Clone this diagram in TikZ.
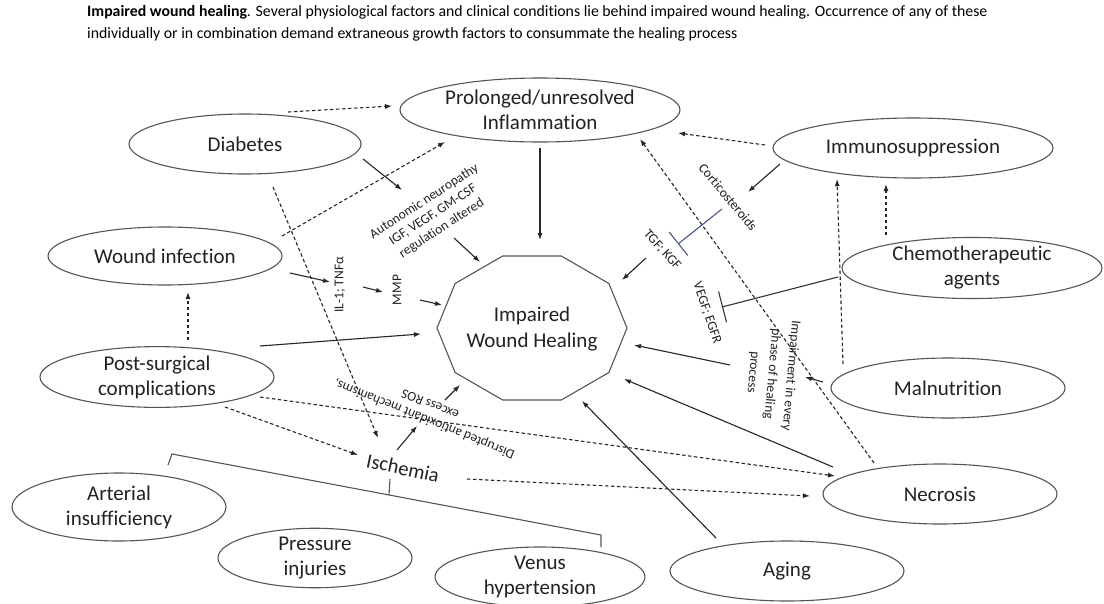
\documentclass[tikz,border=0pt]{standalone}
\usepackage{fontspec}
\setmainfont{Carlito}[Ligatures={NoCommon}]
\usetikzlibrary{arrows.meta,shapes.geometric}
\definecolor{ln}{HTML}{555555}
\definecolor{tx}{HTML}{222222}
\definecolor{inh}{HTML}{4A5785}
\begin{document}
\begin{tikzpicture}[x=1pt,y=-1pt,
  ell/.style={ellipse, draw=ln, line width=1.1pt, inner sep=0pt, align=center, text=tx, font=\fontsize{21}{25}\selectfont},
  arr/.style={draw=black!85, line width=1.1pt, -{Latex[length=7pt,width=5pt]}},
  darr/.style={arr, dash pattern=on 3.5pt off 2.5pt},
  inhib/.style={line width=1.1pt, -{Bar[width=#1,line width=1.1pt]}},
  lab/.style={font=\fontsize{13.5}{16}\selectfont, align=center, text=tx, inner sep=0pt},
  poly/.style={draw=ln, line width=1.1pt}
]
\useasboundingbox (0,0) rectangle (1104,603);
\fill[white] (0,0) rectangle (1104,603);

% title
\node[anchor=north west, align=left, inner sep=0pt, font=\fontsize{15.8}{22}\selectfont] (title) at (87,5)
 {\textbf{Impaired wound healing}. Several physiological factors and clinical conditions lie behind impaired wound healing. Occurrence of any of these\\individually or in combination demand extraneous growth factors to consummate the healing process};

% ellipses
\node[ell, minimum width=280pt, minimum height=64pt] (prol) at (540,110) {Prolonged/unresolved\\Inflammation};
\node[ell, minimum width=232pt, minimum height=60pt] (diab) at (245,144) {Diabetes};
\node[ell, minimum width=234pt, minimum height=58pt] (winf) at (165,256) {Wound infection};
\node[ell, minimum width=234pt, minimum height=60pt] (post) at (157,377) {Post-surgical\\complications};
\node[ell, minimum width=280pt, minimum height=60pt] (immu) at (913,148) {Immunosuppression};
\node[ell, minimum width=260pt, minimum height=60pt] (chem) at (972,268) {Chemotherapeutic\\agents};
\node[ell, minimum width=234pt, minimum height=60pt] (maln) at (948,388) {Malnutrition};
\node[ell, minimum width=234pt, minimum height=60pt] (necr) at (940,494) {Necrosis};
\node[ell, minimum width=234pt, minimum height=60pt] (agin) at (787,571) {Aging};
\node[ell, minimum width=214pt, minimum height=68pt] (arte) at (119,507) {Arterial\\insufficiency};
\node[ell, minimum width=194pt, minimum height=58pt] (pres) at (315,558) {Pressure\\injuries};
\node[ell, minimum width=210pt, minimum height=60pt] (venu) at (540,577) {Venus\\hypertension};

% decagon
\draw[poly] (627,328) \foreach \a in {36,72,...,324}{ -- ({532+95*cos(\a)},{328+75.7*sin(\a)})} -- cycle;
\node[align=center, text=tx, font=\fontsize{21}{26}\selectfont] (iwh) at (532,329) {Impaired\\Wound Healing};

% ischemia
\node[text=tx, font=\fontsize{20.5}{24}\selectfont, rotate=-12, inner sep=0pt] (isch) at (403,468) {Ischemia};

% bracket
\coordinate (bk1) at (168,465); \coordinate (bk2) at (172,454);
\coordinate (bk3) at (601,535); \coordinate (bk4) at (601,547);
\coordinate (bm1) at (389,495); \coordinate (bm2) at (390,479);
\draw[ln, line width=1.1pt] (bk1) -- (bk2) -- (bk3) -- (bk4);
\draw[ln, line width=1.1pt] (bm1) -- (bm2);

% small labels
\node[lab, rotate=33] (auto) at (433,215) {Autonomic neuropathy\\IGF, VEGF, GM-CSF\\regulation altered};
\node[lab, rotate=90] (il1) at (340,285) {IL-1; TNFα};
\node[lab, rotate=90] (mmp) at (397,290) {MMP};
\node[lab, rotate=158] (dis) at (427,412) {Disrupted antioxidant mechanisms,\\excess ROS};
\node[lab, rotate=-50] (cort) at (728,197) {Corticosteroids};
\node[lab, rotate=-48] (tgf) at (662,250) {TGF; KGF};
\node[lab, rotate=-71] (vegf) at (707,313) {VEGF; EGFR};
\node[lab, rotate=-95, font=\fontsize{13.5}{19}\selectfont] (imp) at (772,374) {Impairment in every\\phase of healing\\process};

% connector end points
\coordinate (a1s) at (288,112); \coordinate (a1e) at (392,106);
\coordinate (a2s) at (282,236); \coordinate (a2e) at (445,142);
\coordinate (a3s) at (363,159); \coordinate (a3e) at (402,190);
\coordinate (a4s) at (273,187); \coordinate (a4e) at (378,438);
\coordinate (a5s) at (454,238); \coordinate (a5e) at (480,262);
\coordinate (a6s) at (540,148); \coordinate (a6e) at (540,240);
\coordinate (a7s) at (290,273); \coordinate (a7e) at (330,282);
\coordinate (a8s) at (363,287); \coordinate (a8e) at (383,292);
\coordinate (a9s) at (420,300); \coordinate (a9e) at (442,305);
\coordinate (b1s) at (260,346); \coordinate (b1e) at (421,334);
\coordinate (b2s) at (188,340); \coordinate (b2e) at (188,292);
\coordinate (b3s) at (260,397); \coordinate (b3e) at (835,476);
\coordinate (b4s) at (225,407); \coordinate (b4e) at (358,455);
\coordinate (b5s) at (397,450); \coordinate (b5e) at (417,426);
\coordinate (b6s) at (445,400); \coordinate (b6e) at (460,385);
\coordinate (b7s) at (467,479); \coordinate (b7e) at (810,496);
\coordinate (c1s) at (716,538); \coordinate (c1e) at (582,401);
\coordinate (c2s) at (833,467); \coordinate (c2e) at (624,379);
\coordinate (c3s) at (730,365); \coordinate (c3e) at (634,345);
\coordinate (c4s) at (823,382); \coordinate (c4e) at (805,377);
\coordinate (c5s) at (874,463); \coordinate (c5e) at (640,139);
\coordinate (c6s) at (843,364); \coordinate (c6e) at (837,179);
\coordinate (c7s) at (886,235); \coordinate (c7e) at (886,184);
\coordinate (c8s) at (765,145); \coordinate (c8e) at (678,133);
\coordinate (c9s) at (780,164); \coordinate (c9e) at (748,192);
\coordinate (d1s) at (722,209); \coordinate (d1e) at (678,244);
\coordinate (d2s) at (646,258); \coordinate (d2e) at (622,280);
\coordinate (d3s) at (838,277); \coordinate (d3e) at (722,307);

\draw[darr] (a1s) -- (a1e);
\draw[darr] (a2s) -- (a2e);
\draw[arr]  (a3s) -- (a3e);
\draw[darr] (a4s) -- (a4e);
\draw[arr]  (a5s) -- (a5e);
\draw[arr]  (a6s) -- (a6e);
\draw[arr]  (a7s) -- (a7e);
\draw[arr]  (a8s) -- (a8e);
\draw[arr]  (a9s) -- (a9e);
\draw[arr]  (b1s) -- (b1e);
\draw[darr] (b2s) -- (b2e);
\draw[darr] (b3s) -- (b3e);
\draw[darr] (b4s) -- (b4e);
\draw[arr]  (b5s) -- (b5e);
\draw[arr]  (b6s) -- (b6e);
\draw[darr] (b7s) -- (b7e);
\draw[arr]  (c1s) -- (c1e);
\draw[arr]  (c2s) -- (c2e);
\draw[arr]  (c3s) -- (c3e);
\draw[arr]  (c4s) -- (c4e);
\draw[darr] (c5s) -- (c5e);
\draw[darr] (c6s) -- (c6e);
\draw[darr] (c7s) -- (c7e);
\draw[darr] (c8s) -- (c8e);
\draw[arr]  (c9s) -- (c9e);
\draw[inhib=30pt, draw=inh] (d1s) -- (d1e);
\draw[arr]  (d2s) -- (d2e);
\draw[inhib=32pt, draw=black!80] (d3s) -- (d3e);
\end{tikzpicture}
\end{document}
